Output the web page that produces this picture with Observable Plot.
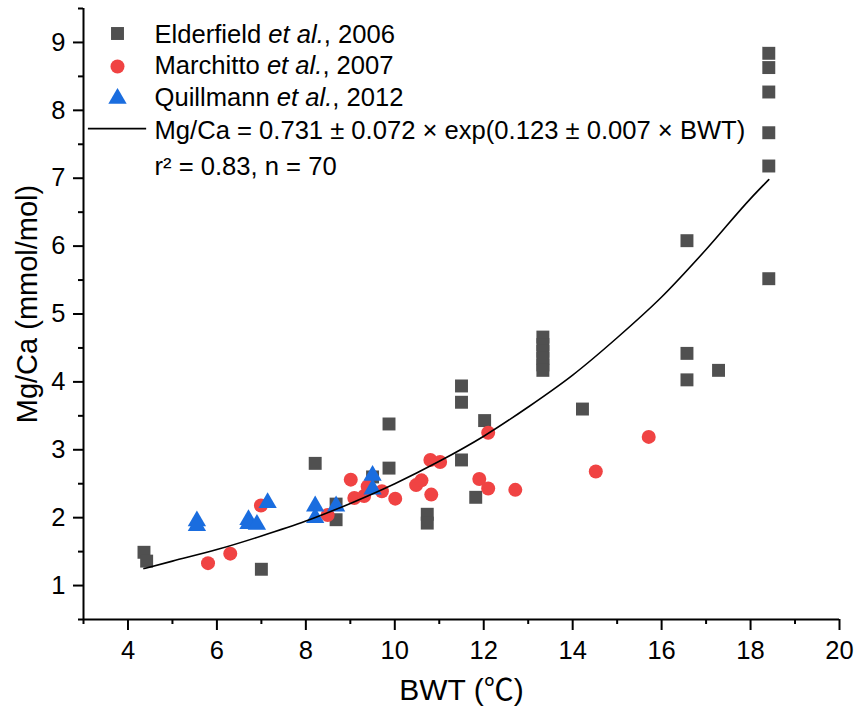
<!DOCTYPE html>
<html>
<head>
<meta charset="utf-8">
<script src="https://cdn.jsdelivr.net/npm/d3@7"></script>
<script src="https://cdn.jsdelivr.net/npm/@observablehq/plot@0.6"></script>
<style>
  html, body { margin: 0; padding: 0; background: #fff; }
  #chart { width: 858px; height: 719px; }
</style>
</head>
<body>
<div id="chart"></div>
<script>
// ---- Data ----
const elderfieldX = [4.36, 4.42, 7.00, 8.21, 8.68, 8.68, 9.50, 9.87, 9.87, 10.73, 10.73, 11.50, 11.50, 11.50, 11.82, 12.02,
  13.33, 13.33, 13.33, 13.33, 13.33, 13.33, 14.22, 16.57, 16.57, 16.57, 17.28, 18.41, 18.41, 18.41, 18.41, 18.41, 18.41];
const elderfieldY = [1.49, 1.36, 1.24, 2.80, 2.20, 1.97, 2.60, 3.38, 2.73, 2.05, 1.92, 3.94, 3.70, 2.85, 2.30, 3.43,
  4.66, 4.55, 4.45, 4.35, 4.25, 4.17, 3.60, 6.08, 4.42, 4.03, 4.17, 8.84, 8.63, 8.27, 7.67, 7.18, 5.52];

const marchittoX = [5.80, 6.30, 6.99, 8.49, 9.01, 9.09, 9.31, 9.39, 9.71, 10.01, 10.48, 10.60, 10.82, 10.80, 11.02,
  11.90, 12.10, 12.10, 12.71, 14.52, 15.71];
const marchittoY = [1.33, 1.47, 2.18, 2.04, 2.56, 2.29, 2.32, 2.46, 2.39, 2.28, 2.48, 2.55, 2.34, 2.85, 2.82,
  2.57, 2.43, 3.25, 2.41, 2.68, 3.19];

const quillmannX = [5.55, 5.55, 6.71, 6.71, 6.90, 7.14, 8.21, 8.21, 8.68, 9.50, 9.50];
const quillmannY = [1.95, 1.88, 1.97, 1.91, 1.90, 2.22, 2.17, 2.00, 2.17, 2.62, 2.42];

// fitted curve, points
const fitX = [4.36, 5, 6, 7, 8, 9, 10, 11, 12, 13, 14, 15, 16, 17, 18, 18.41];
const fitY = [1.25, 1.36, 1.53, 1.73, 1.95, 2.21, 2.50, 2.83, 3.20, 3.63, 4.10, 4.65, 5.25, 5.95, 6.70, 6.98];

const xMajorTicks = [4, 6, 8, 10, 12, 14, 16, 18, 20];
const xMinorTicks = [3, 5, 7, 9, 11, 13, 15, 17, 19];
const yMajorTicks = [1, 2, 3, 4, 5, 6, 7, 8, 9];
const yMinorTicks = [0.5, 1.5, 2.5, 3.5, 4.5, 5.5, 6.5, 7.5, 8.5, 9.5];

const seriesNames = ["Elderfield et al., 2006", "Marchitto et al., 2007", "Quillmann et al., 2012"];
const fitLabels = ["Mg/Ca = 0.731 ± 0.072 × exp(0.123 ± 0.007 × BWT)", "r² = 0.83, n = 70"];
const xTitle = "BWT (℃)";
const yTitle = "Mg/Ca (mmol/mol)";

// ---- Build tables ----
const toPts = (xs, ys) => xs.map((x, i) => ({x, y: ys[i]}));
const elderfield = toPts(elderfieldX, elderfieldY);
const marchitto = toPts(marchittoX, marchittoY);
const quillmann = toPts(quillmannX, quillmannY);
const fit = toPts(fitX, fitY);

const GREY = "#505050", RED = "#f04343", BLUE = "#1a6ddf";
const FONT = "'Liberation Sans', Arial, 'Noto Sans CJK SC', sans-serif";

// legend layout (pixel offsets from the frame's top-left corner)
const legendSymbols = [
  {symbol: "square", fill: GREY, r: 7.3, dy: 25},
  {symbol: "circle", fill: RED, r: 7, dy: 58},
  {symbol: "triangle", fill: BLUE, r: 6.8, dy: 90}
];
const legendRows = [seriesNames[0], seriesNames[1], seriesNames[2], fitLabels[0], fitLabels[1]];
const legendRowDy = [26, 57, 89, 122, 158];

const legendMarks = [
  ...legendSymbols.map(s => Plot.dot([s], {frameAnchor: "top-left", dx: 34, dy: s.dy, symbol: s.symbol, fill: s.fill, r: s.r})),
  ...legendRows.map((t, i) => Plot.text([t], {frameAnchor: "top-left", dx: 71, dy: legendRowDy[i], textAnchor: "start", lineAnchor: "middle", fontSize: 25.6})),
  Plot.ruleY([7.73], {x1: 3.11, x2: 4.42, stroke: "#000", strokeWidth: 1.6})
];

const chart = Plot.plot({
  width: 858,
  height: 719,
  marginLeft: 83,
  marginRight: 19,
  marginTop: 8,
  marginBottom: 100,
  style: {fontFamily: FONT, fontSize: "25px", color: "#000", background: "#fff"},
  x: {domain: [3, 20]},
  y: {domain: [0.5, 9.5]},
  marks: [
    // axes
    Plot.axisX(xMinorTicks, {tickSize: 5, strokeWidth: 2, fill: "none", label: null}),
    Plot.axisX(xMajorTicks, {tickSize: 11, tickPadding: 10, strokeWidth: 2, label: null, fontSize: 25.5, tickFormat: d => String(d)}),
    Plot.axisY(yMinorTicks, {tickSize: 5, strokeWidth: 2, fill: "none", label: null}),
    Plot.axisY(yMajorTicks, {tickSize: 10, tickPadding: 8, strokeWidth: 2, label: null, fontSize: 25.5, tickFormat: d => String(d)}),
    Plot.ruleX([3], {strokeWidth: 2}),
    Plot.ruleY([0.5], {strokeWidth: 2}),
    // data
    Plot.dot(elderfield, {x: "x", y: "y", symbol: "square", r: 7.3, fill: GREY}),
    Plot.dot(marchitto, {x: "x", y: "y", symbol: "circle", r: 7, fill: RED}),
    Plot.dot(quillmann, {x: "x", y: "y", symbol: "triangle", r: 6.8, fill: BLUE}),
    Plot.line(fit, {x: "x", y: "y", curve: "monotone-x", stroke: "#000", strokeWidth: 1.6}),
    // legend
    ...legendMarks,
    // axis titles
    Plot.text([xTitle], {frameAnchor: "bottom", dy: 71, textAnchor: "middle", lineAnchor: "middle", fontSize: 30}),
    Plot.text([yTitle], {frameAnchor: "left", dx: -56, dy: -10, rotate: -90, textAnchor: "middle", lineAnchor: "middle", fontSize: 29})
  ]
});

// italicize "et al." in legend entries
const ns = "http://www.w3.org/2000/svg";
chart.querySelectorAll("text").forEach(t => {
  const s = t.textContent;
  const m = s.match(/^(.*?)(et al\.)(.*)$/);
  if (m) {
    const target = t.querySelector("tspan") || t;
    target.textContent = "";
    [[m[1], false], [m[2], true], [m[3], false]].forEach(([str, it]) => {
      const sp = document.createElementNS(ns, "tspan");
      sp.textContent = str;
      if (it) sp.setAttribute("font-style", "italic");
      target.appendChild(sp);
    });
  }
});

document.getElementById("chart").appendChild(chart);
</script>
</body>
</html>
